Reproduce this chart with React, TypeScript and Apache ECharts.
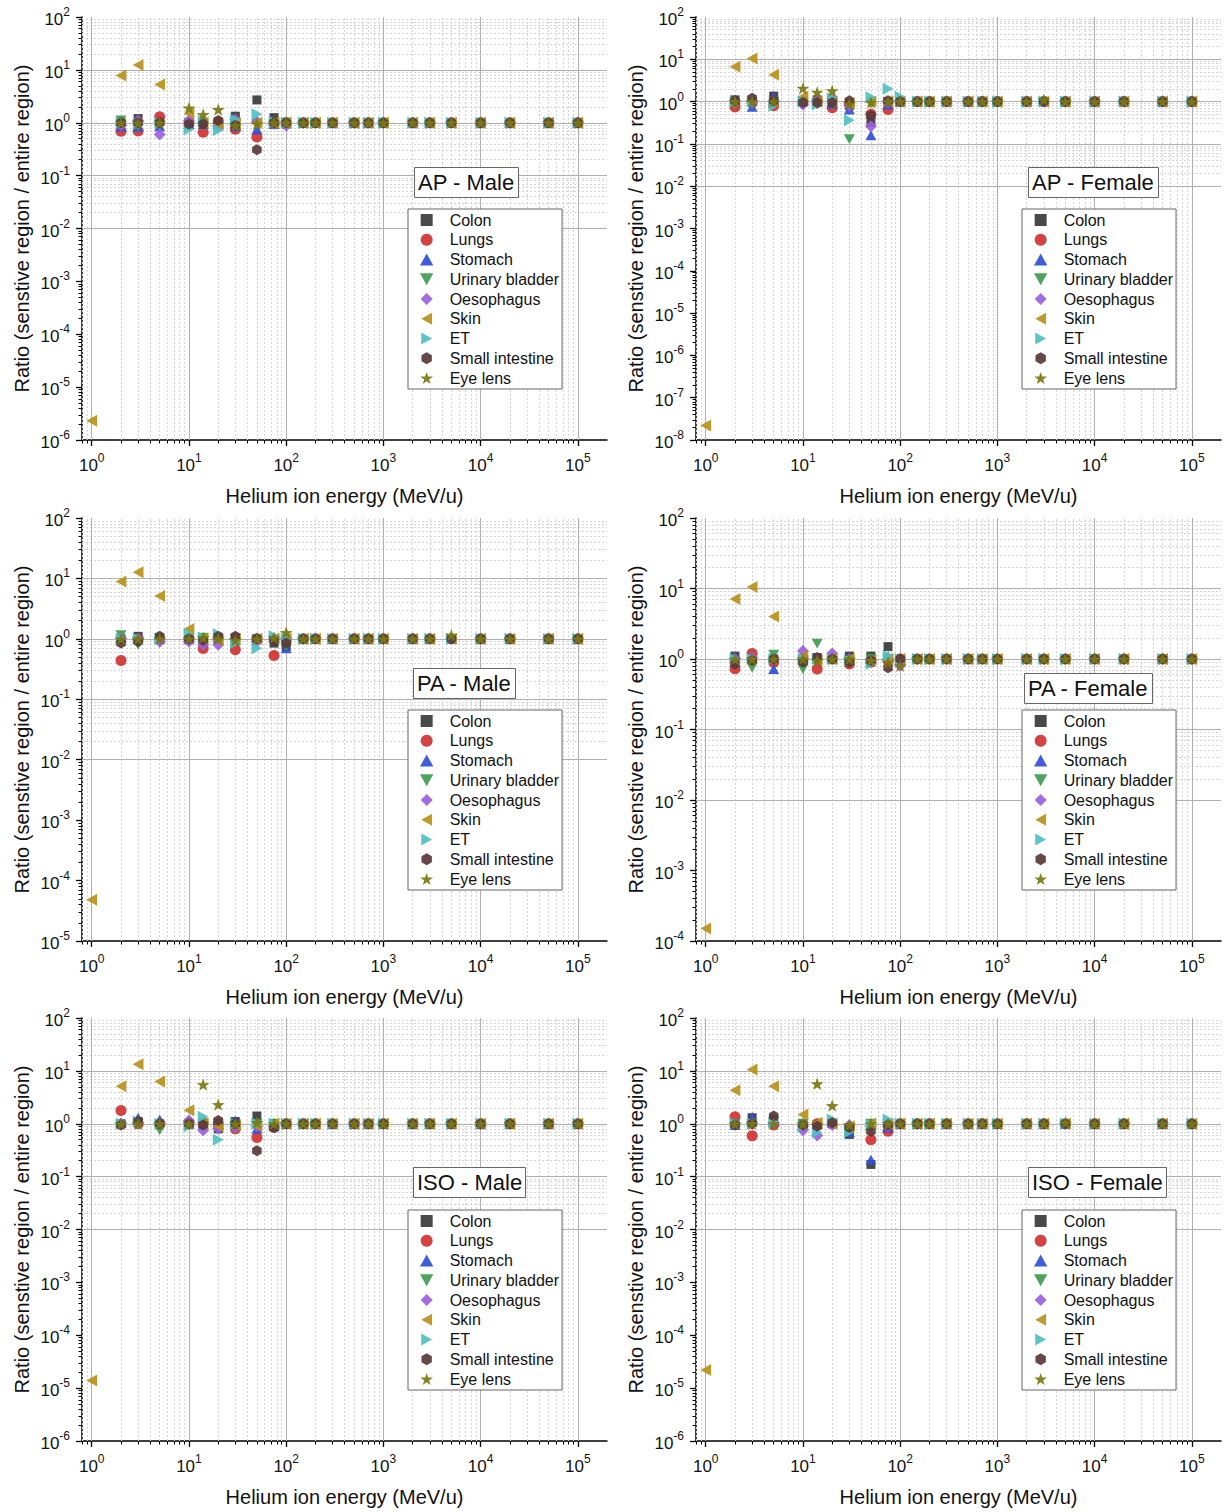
import React, { useEffect, useRef } from 'react';
import * as echarts from 'echarts';

// ---------------- DATA ----------------
const energies = [1, 2, 3, 5, 10, 14, 20, 30, 50, 75, 100, 150, 200, 300, 500, 700, 1000, 2000, 3000, 5000, 10000, 20000, 50000, 100000];
const organs = ['Colon', 'Lungs', 'Stomach', 'Urinary bladder', 'Oesophagus', 'Skin', 'ET', 'Small intestine', 'Eye lens'];
const panelTitles = ['AP - Male', 'AP - Female', 'PA - Male', 'PA - Female', 'ISO - Male', 'ISO - Female'];
const yMinExps = [-6, -8, -5, -4, -6, -6];
const xMajorTicks = [1, 10, 100, 1000, 10000, 100000];

// AP - Male
const apMaleColon = [null, 1.0, 1.2, 1.05, 1.0, 1.0, 1.0, 1.33, 2.7, 1.25, 1.02, 1.0, 1.0, 1.0, 1.0, 1.0, 1.0, 1.0, 1.0, 1.0, 1.0, 1.0, 1.0, 1.0];
const apMaleLungs = [null, 0.69, 0.7, 1.3, 1.0, 0.66, 1.02, 0.75, 0.54, 1.0, 1.0, 1.0, 1.0, 1.0, 1.0, 1.0, 1.0, 1.0, 1.0, 1.0, 1.0, 1.0, 1.0, 1.0];
const apMaleStomach = [null, 0.85, 0.84, 0.86, 0.95, 0.95, 0.92, 0.85, 0.75, 0.95, 0.98, 1.0, 1.0, 1.0, 1.0, 1.0, 1.0, 1.0, 1.0, 1.0, 1.0, 1.0, 1.0, 1.0];
const apMaleBladder = [null, 1.1, 0.85, 0.9, 1.0, 0.85, 0.9, 0.9, 0.95, 1.0, 1.0, 1.0, 1.0, 1.0, 1.0, 1.0, 1.0, 1.0, 1.0, 1.0, 1.0, 1.0, 1.0, 1.0];
const apMaleOesophagus = [null, 0.9, 1.1, 0.6, 1.1, 1.0, 0.85, 1.15, 1.05, 0.95, 0.88, 1.0, 1.0, 1.0, 1.0, 1.0, 1.0, 1.0, 1.0, 1.0, 1.0, 1.0, 1.0, 1.0];
const apMaleSkin = [2.3e-6, 7.8, 12.3, 5.3, 1.5, 1.0, 0.95, 1.0, 1.0, 1.0, 1.0, 1.0, 1.0, 1.0, 1.0, 1.0, 1.0, 1.0, 1.0, 1.0, 1.0, 1.0, 1.0, 1.0];
const apMaleET = [null, 1.0, 0.95, 1.0, 0.75, 1.1, 0.72, 1.15, 1.45, 1.05, 1.0, 1.0, 1.0, 1.0, 1.0, 1.0, 1.0, 1.0, 1.0, 1.0, 1.0, 1.0, 1.0, 1.0];
const apMaleSmallInt = [null, 1.0, 1.0, 1.0, 0.95, 0.95, 1.1, 0.9, 0.31, 1.0, 1.0, 1.0, 1.0, 1.0, 1.0, 1.0, 1.0, 1.0, 1.0, 1.0, 1.0, 1.0, 1.0, 1.0];
const apMaleEye = [null, 1.0, 1.0, 1.0, 1.9, 1.43, 1.78, 0.88, 0.95, 1.0, 1.0, 1.0, 1.0, 1.0, 1.0, 1.0, 1.0, 1.0, 1.0, 1.0, 1.0, 1.0, 1.0, 1.0];

// AP - Female
const apFemaleColon = [null, 1.1, 1.0, 1.35, 1.0, 1.1, 0.9, 0.8, 0.32, 1.0, 1.0, 1.0, 1.0, 1.0, 1.0, 1.0, 1.0, 1.0, 1.0, 1.0, 1.0, 1.0, 1.0, 1.0];
const apFemaleLungs = [null, 0.75, 0.95, 0.8, 1.0, 0.95, 0.72, 0.9, 0.5, 0.65, 1.0, 1.0, 1.0, 1.0, 1.0, 1.0, 1.0, 1.0, 1.0, 1.0, 1.0, 1.0, 1.0, 1.0];
const apFemaleStomach = [null, 1.1, 0.75, 1.3, 1.0, 1.0, 0.9, 0.65, 0.16, 0.85, 1.0, 1.0, 1.0, 1.0, 1.0, 1.0, 1.0, 1.0, 1.0, 1.0, 1.0, 1.0, 1.0, 1.0];
const apFemaleBladder = [null, 0.85, 0.85, 1.0, 0.95, 0.85, 0.85, 0.13, 0.9, 1.0, 1.0, 1.0, 1.0, 1.0, 1.0, 1.0, 1.0, 1.0, 1.0, 1.0, 1.0, 1.0, 1.0, 1.0];
const apFemaleOesophagus = [null, 1.0, 1.0, 1.0, 0.85, 1.15, 1.2, 0.8, 0.26, 0.95, 1.0, 1.0, 1.0, 1.0, 1.0, 1.0, 1.0, 1.0, 1.0, 1.0, 1.0, 1.0, 1.0, 1.0];
const apFemaleSkin = [2.2e-8, 6.7, 10.5, 4.3, 1.3, 1.0, 1.0, 0.9, 1.0, 1.0, 1.0, 1.0, 1.0, 1.0, 1.0, 1.0, 1.0, 1.0, 1.0, 1.0, 1.0, 1.0, 1.0, 1.0];
const apFemaleET = [null, 1.0, 1.0, 0.8, 1.0, 0.85, 1.2, 0.36, 1.27, 2.0, 1.3, 1.0, 1.0, 1.0, 1.0, 1.0, 1.0, 1.0, 1.0, 1.0, 1.0, 1.0, 1.0, 1.0];
const apFemaleSmallInt = [null, 1.05, 1.2, 1.05, 0.95, 0.95, 0.95, 1.05, 0.47, 1.05, 1.0, 1.0, 1.0, 1.0, 1.0, 1.0, 1.0, 1.0, 1.0, 1.0, 1.0, 1.0, 1.0, 1.0];
const apFemaleEye = [null, 1.0, 1.0, 1.0, 2.07, 1.66, 1.8, 0.88, 0.96, 1.0, 1.0, 1.0, 1.0, 1.0, 1.0, 1.0, 1.0, 1.0, 1.1, 1.0, 1.0, 1.0, 1.0, 1.0];

// PA - Male
const paMaleColon = [null, 1.0, 1.1, 1.0, 1.0, 1.0, 1.05, 1.0, 1.0, 0.85, 0.75, 1.0, 1.0, 1.0, 1.0, 1.0, 1.0, 1.0, 1.0, 1.0, 1.0, 1.0, 1.0, 1.0];
const paMaleLungs = [null, 0.44, 1.0, 1.0, 1.0, 0.69, 1.0, 0.66, 1.0, 0.53, 1.0, 1.0, 1.0, 1.0, 1.0, 1.0, 1.0, 1.0, 1.0, 1.0, 1.0, 1.0, 1.0, 1.0];
const paMaleStomach = [null, 1.05, 1.05, 1.0, 1.0, 1.05, 1.0, 0.95, 1.05, 1.05, 0.7, 1.0, 1.0, 1.0, 1.0, 1.0, 1.0, 1.0, 1.0, 1.0, 1.0, 1.0, 1.0, 1.0];
const paMaleBladder = [null, 1.15, 0.8, 0.85, 0.9, 1.05, 0.95, 1.0, 1.0, 1.0, 0.75, 1.0, 1.0, 1.0, 1.0, 1.0, 1.0, 1.0, 1.0, 1.0, 1.0, 1.0, 1.0, 1.0];
const paMaleOesophagus = [null, 1.0, 1.0, 0.9, 0.9, 0.8, 0.8, 1.0, 0.9, 1.0, 1.0, 1.0, 1.0, 1.0, 1.0, 1.0, 1.0, 1.0, 1.0, 1.0, 1.0, 1.0, 1.0, 1.0];
const paMaleSkin = [4.8e-5, 8.9, 12.7, 5.1, 1.46, 1.0, 0.95, 1.0, 1.0, 1.0, 1.0, 1.0, 1.0, 1.0, 1.0, 1.0, 1.0, 1.0, 1.0, 1.0, 1.0, 1.0, 1.0, 1.0];
const paMaleET = [null, 1.0, 1.0, 1.0, 1.2, 1.05, 1.2, 0.85, 0.7, 1.1, 1.0, 1.0, 1.0, 1.0, 1.0, 1.0, 1.0, 1.0, 1.0, 1.0, 1.0, 1.0, 1.0, 1.0];
const paMaleSmallInt = [null, 0.85, 0.9, 1.1, 1.0, 0.95, 1.1, 1.1, 1.0, 0.95, 0.85, 1.0, 1.0, 1.0, 1.0, 1.0, 1.0, 1.0, 1.0, 1.0, 1.0, 1.0, 1.0, 1.0];
const paMaleEye = [null, 1.0, 1.0, 1.0, 1.0, 1.05, 1.0, 0.95, 1.0, 1.05, 1.27, 1.0, 1.0, 1.0, 1.0, 1.0, 1.0, 1.0, 1.0, 1.15, 1.0, 1.0, 1.0, 1.0];

// PA - Female
const paFemaleColon = [null, 1.1, 1.0, 1.0, 1.0, 1.05, 1.0, 1.1, 1.1, 1.5, 1.0, 1.0, 1.0, 1.0, 1.0, 1.0, 1.0, 1.0, 1.0, 1.0, 1.0, 1.0, 1.0, 1.0];
const paFemaleLungs = [null, 0.73, 1.2, 0.9, 1.0, 0.72, 1.0, 0.85, 0.9, 0.95, 1.0, 1.0, 1.0, 1.0, 1.0, 1.0, 1.0, 1.0, 1.0, 1.0, 1.0, 1.0, 1.0, 1.0];
const paFemaleStomach = [null, 1.1, 1.1, 0.72, 1.0, 1.0, 1.0, 1.05, 1.0, 1.1, 1.0, 1.0, 1.0, 1.0, 1.0, 1.0, 1.0, 1.0, 1.0, 1.0, 1.0, 1.0, 1.0, 1.0];
const paFemaleBladder = [null, 0.85, 0.75, 1.15, 0.72, 1.65, 1.0, 0.9, 1.0, 1.0, 0.8, 1.0, 1.0, 1.0, 1.0, 1.0, 1.0, 1.0, 1.0, 1.0, 1.0, 1.0, 1.0, 1.0];
const paFemaleOesophagus = [null, 1.0, 1.05, 1.0, 1.3, 1.0, 1.2, 1.0, 0.95, 1.0, 0.8, 1.0, 1.0, 1.0, 1.0, 1.0, 1.0, 1.0, 1.0, 1.0, 1.0, 1.0, 1.0, 1.0];
const paFemaleSkin = [1.5e-4, 7.1, 10.5, 4.0, 1.1, 0.95, 1.0, 1.0, 0.95, 1.0, 1.0, 1.0, 1.0, 1.0, 1.0, 1.0, 1.0, 1.0, 1.0, 1.0, 1.0, 1.0, 1.0, 1.0];
const paFemaleET = [null, 1.0, 1.0, 1.0, 1.0, 1.0, 1.0, 0.95, 0.85, 1.1, 1.0, 1.0, 1.0, 1.0, 1.0, 1.0, 1.0, 1.0, 1.0, 1.0, 1.0, 1.0, 1.0, 1.0];
const paFemaleSmallInt = [null, 0.85, 0.95, 1.0, 0.9, 1.05, 1.0, 0.9, 0.95, 0.75, 1.0, 1.0, 1.0, 1.0, 1.0, 1.0, 1.0, 1.0, 1.0, 1.0, 1.0, 1.0, 1.0, 1.0];
const paFemaleEye = [null, 1.0, 1.0, 1.0, 1.0, 0.95, 1.0, 1.0, 0.95, 0.9, 0.8, 1.0, 1.0, 1.0, 1.0, 1.0, 1.0, 1.0, 1.0, 1.0, 1.0, 1.0, 1.0, 1.0];

// ISO - Male
const isoMaleColon = [null, 1.0, 1.1, 1.0, 1.0, 1.0, 0.8, 1.1, 1.4, 0.95, 1.0, 1.0, 1.0, 1.0, 1.0, 1.0, 1.0, 1.0, 1.0, 1.0, 1.0, 1.0, 1.0, 1.0];
const isoMaleLungs = [null, 1.78, 1.0, 1.0, 1.05, 1.05, 1.0, 0.8, 0.55, 0.85, 1.0, 1.0, 1.0, 1.0, 1.0, 1.0, 1.0, 1.0, 1.0, 1.0, 1.0, 1.0, 1.0, 1.0];
const isoMaleStomach = [null, 1.05, 1.3, 1.2, 1.0, 1.0, 1.0, 1.15, 0.8, 0.9, 1.0, 1.0, 1.0, 1.0, 1.0, 1.0, 1.0, 1.0, 1.0, 1.0, 1.0, 1.0, 1.0, 1.0];
const isoMaleBladder = [null, 0.95, 1.0, 0.75, 0.95, 1.0, 1.0, 0.95, 1.0, 1.0, 1.0, 1.0, 1.0, 1.0, 1.0, 1.0, 1.0, 1.0, 1.0, 1.0, 1.0, 1.0, 1.0, 1.0];
const isoMaleOesophagus = [null, 1.0, 1.05, 1.0, 1.15, 0.75, 0.8, 0.85, 0.9, 0.9, 1.0, 1.0, 1.0, 1.0, 1.0, 1.0, 1.0, 1.0, 1.0, 1.0, 1.0, 1.0, 1.0, 1.0];
const isoMaleSkin = [1.4e-5, 5.1, 13.4, 6.3, 1.8, 1.0, 0.9, 0.95, 0.9, 1.0, 1.0, 1.0, 1.0, 1.0, 1.0, 1.0, 1.0, 1.0, 1.0, 1.0, 1.0, 1.0, 1.0, 1.0];
const isoMaleET = [null, 1.0, 1.1, 1.0, 0.9, 1.35, 0.5, 1.0, 1.0, 1.0, 1.0, 1.0, 1.0, 1.0, 1.0, 1.0, 1.0, 1.0, 1.0, 1.0, 1.0, 1.0, 1.0, 1.0];
const isoMaleSmallInt = [null, 0.95, 1.1, 1.0, 1.0, 0.95, 1.15, 1.0, 0.31, 0.85, 1.0, 1.0, 1.0, 1.0, 1.0, 1.0, 1.0, 1.0, 1.0, 1.0, 1.0, 1.0, 1.0, 1.0];
const isoMaleEye = [null, 1.0, 1.0, 1.0, 1.0, 5.5, 2.3, 1.0, 1.05, 1.0, 1.0, 1.0, 1.0, 1.0, 1.0, 1.0, 1.0, 1.0, 1.0, 1.0, 1.0, 1.0, 1.0, 1.0];

// ISO - Female
const isoFemaleColon = [null, 1.0, 1.3, 1.2, 1.0, 0.95, 1.0, 0.63, 0.17, 0.9, 1.0, 1.0, 1.0, 1.0, 1.0, 1.0, 1.0, 1.0, 1.0, 1.0, 1.0, 1.0, 1.0, 1.0];
const isoFemaleLungs = [null, 1.35, 0.59, 0.95, 0.95, 1.0, 1.0, 0.85, 0.5, 0.72, 1.0, 1.0, 1.0, 1.0, 1.0, 1.0, 1.0, 1.0, 1.0, 1.0, 1.0, 1.0, 1.0, 1.0];
const isoFemaleStomach = [null, 0.95, 1.35, 1.15, 1.0, 1.0, 1.05, 0.7, 0.21, 0.85, 1.0, 1.0, 1.0, 1.0, 1.0, 1.0, 1.0, 1.0, 1.0, 1.0, 1.0, 1.0, 1.0, 1.0];
const isoFemaleBladder = [null, 1.0, 1.0, 1.1, 1.0, 0.9, 1.0, 0.75, 1.0, 1.0, 1.0, 1.0, 1.0, 1.0, 1.0, 1.0, 1.0, 1.0, 1.0, 1.0, 1.0, 1.0, 1.0, 1.0];
const isoFemaleOesophagus = [null, 1.0, 1.0, 1.05, 0.75, 0.6, 0.95, 0.95, 0.9, 0.9, 1.0, 1.0, 1.0, 1.0, 1.0, 1.0, 1.0, 1.0, 1.0, 1.0, 1.0, 1.0, 1.0, 1.0];
const isoFemaleSkin = [2.2e-5, 4.3, 10.6, 5.1, 1.5, 1.05, 1.0, 0.9, 1.0, 1.0, 1.0, 1.0, 1.0, 1.0, 1.0, 1.0, 1.0, 1.0, 1.0, 1.0, 1.0, 1.0, 1.0, 1.0];
const isoFemaleET = [null, 1.0, 1.0, 1.05, 0.9, 0.68, 1.2, 0.7, 0.95, 1.2, 1.0, 1.0, 1.0, 1.0, 1.0, 1.0, 1.0, 1.0, 1.0, 1.0, 1.0, 1.0, 1.0, 1.0];
const isoFemaleSmallInt = [null, 0.95, 1.0, 1.4, 0.95, 0.9, 1.05, 0.85, 0.72, 0.95, 1.0, 1.0, 1.0, 1.0, 1.0, 1.0, 1.0, 1.0, 1.0, 1.0, 1.0, 1.0, 1.0, 1.0];
const isoFemaleEye = [null, 1.0, 1.0, 1.0, 1.0, 5.7, 2.2, 0.95, 1.0, 1.0, 1.0, 1.0, 1.0, 1.0, 1.0, 1.0, 1.0, 1.0, 1.0, 1.05, 1.0, 1.0, 1.0, 1.0];

const panelData = [
  [apMaleColon, apMaleLungs, apMaleStomach, apMaleBladder, apMaleOesophagus, apMaleSkin, apMaleET, apMaleSmallInt, apMaleEye],
  [apFemaleColon, apFemaleLungs, apFemaleStomach, apFemaleBladder, apFemaleOesophagus, apFemaleSkin, apFemaleET, apFemaleSmallInt, apFemaleEye],
  [paMaleColon, paMaleLungs, paMaleStomach, paMaleBladder, paMaleOesophagus, paMaleSkin, paMaleET, paMaleSmallInt, paMaleEye],
  [paFemaleColon, paFemaleLungs, paFemaleStomach, paFemaleBladder, paFemaleOesophagus, paFemaleSkin, paFemaleET, paFemaleSmallInt, paFemaleEye],
  [isoMaleColon, isoMaleLungs, isoMaleStomach, isoMaleBladder, isoMaleOesophagus, isoMaleSkin, isoMaleET, isoMaleSmallInt, isoMaleEye],
  [isoFemaleColon, isoFemaleLungs, isoFemaleStomach, isoFemaleBladder, isoFemaleOesophagus, isoFemaleSkin, isoFemaleET, isoFemaleSmallInt, isoFemaleEye],
];

// ---------------- STYLE ----------------
const FF = "'Liberation Sans', Arial, sans-serif";
const colors = ['#3a3a3a', '#d03232', '#3050d8', '#3f9c50', '#9a5fe0', '#b8901a', '#4fc0c0', '#5a3838', '#7a7a12'];
const STAR = 'path://M0,-1 L0.235,-0.324 L0.951,-0.309 L0.38,0.124 L0.588,0.809 L0,0.4 L-0.588,0.809 L-0.38,0.124 L-0.951,-0.309 L-0.235,-0.324 Z';
const HEX = 'path://M0,-1 L0.866,-0.5 L0.866,0.5 L0,1 L-0.866,0.5 L-0.866,-0.5 Z';
const SQUARE = 'path://M0,0 L2,0 L2,2 L0,2 Z';
const UP = 'path://M1,0 L2,1.8 L0,1.8 Z';
const DIAMOND = 'path://M1,0 L2,1 L1,2 L0,1 Z';
const symbols = [
  SQUARE, 'circle', UP, 'path://M0,0 L2,0 L1,1.8 Z', DIAMOND,
  'path://M0,1 L1.8,0 L1.8,2 Z', 'path://M0,0 L1.8,1 L0,2 Z', HEX, STAR,
];
const symbolSizes = [9, 11, 11, 11, 12, 12, 12, 11, 13];

const XMIN = 0.794;
const XMAX = 199500;
const gridLefts = [82, 696];
const gridTops = [17, 518, 1018];
const GRID_W = 525;
const GRID_H = 423;
const titleBoxes = [[414, 167], [1028, 167], [413, 668], [1024, 673], [413, 1167], [1028, 1167]];
const legendBoxes = [[408, 209], [1022, 209], [408, 710], [1022, 710], [408, 1210], [1022, 1210]];

const minorValues = (lo: number, hi: number, kFrom: number, kTo: number) => {
  const out: number[] = [];
  for (let k = kFrom; k <= kTo; k++) {
    for (let m = 2; m <= 9; m++) {
      const v = Number((m * Math.pow(10, k)).toPrecision(6));
      if (v >= lo && v <= hi) out.push(v);
    }
  }
  return out;
};

const rich = {
  b: { fontSize: 17, lineHeight: 22, verticalAlign: 'bottom', fontFamily: FF, color: '#111' },
  s: { fontSize: 12, lineHeight: 12, verticalAlign: 'top', fontFamily: FF, color: '#111' },
};
const powLabel = (v: number) => `{b|10}{s|${Math.round(Math.log10(v))}}`;

export default function App() {
  const ref = useRef<HTMLDivElement>(null);
  useEffect(() => {
    if (!ref.current) return;
    const chart = echarts.init(ref.current, undefined, { renderer: 'svg' });
    const xMinor = minorValues(XMIN, XMAX, -1, 5);
    const majorLine = { color: '#b0b0b0', width: 1, type: 'solid' };
    const minorLine = { color: '#d6d6d6', width: 1, type: [2, 2] };

    const grids: any[] = [];
    const xAxes: any[] = [];
    const yAxes: any[] = [];
    const xMinorAxes: any[] = [];
    const yMinorAxes: any[] = [];
    const series: any[] = [];
    const titles: any[] = [];
    const legends: any[] = [];

    panelTitles.forEach((pt, i) => {
      const col = i % 2;
      const row = Math.floor(i / 2);
      const yMin = Math.pow(10, yMinExps[i]);
      const yMajor: number[] = [];
      for (let k = yMinExps[i]; k <= 2; k++) yMajor.push(Number(Math.pow(10, k).toPrecision(3)));
      const yMinor = minorValues(yMin, 100, yMinExps[i], 1);

      grids.push({ left: gridLefts[col], top: gridTops[row], width: GRID_W, height: GRID_H, containLabel: false });

      xAxes.push({
        type: 'log', logBase: 10, gridIndex: i, min: XMIN, max: XMAX, position: 'bottom',
        axisLine: { show: true, onZero: false, lineStyle: { color: '#000', width: 1.5 } },
        axisTick: { show: true, customValues: xMajorTicks, length: 6, lineStyle: { color: '#000', width: 1.3 } },
        axisLabel: { show: true, customValues: xMajorTicks, formatter: powLabel, rich, margin: 12 },
        splitLine: { show: false }, minorTick: { show: false }, minorSplitLine: { show: false },
        name: 'Helium ion energy (MeV/u)', nameLocation: 'middle', nameGap: 46,
        nameTextStyle: { fontSize: 20, color: '#111', fontFamily: FF },
      });
      xMinorAxes.push({
        type: 'log', logBase: 10, gridIndex: i, min: XMIN, max: XMAX, position: 'bottom',
        axisLine: { show: false },
        axisTick: { show: true, customValues: xMinor, length: 3.5, lineStyle: { color: '#000', width: 1 } },
        axisLabel: { show: false }, splitLine: { show: false },
      });
      yAxes.push({
        type: 'log', logBase: 10, gridIndex: i, min: yMin, max: 100, position: 'left',
        axisLine: { show: true, onZero: false, lineStyle: { color: '#000', width: 1.5 } },
        axisTick: { show: true, customValues: yMajor, length: 6, lineStyle: { color: '#000', width: 1.3 } },
        axisLabel: { show: true, customValues: yMajor, formatter: powLabel, rich, margin: 12 },
        splitLine: { show: false }, minorTick: { show: false }, minorSplitLine: { show: false },
        name: 'Ratio (senstive region / entire region)', nameLocation: 'middle', nameGap: 50,
        nameTextStyle: { fontSize: 20, color: '#111', fontFamily: FF },
      });
      yMinorAxes.push({
        type: 'log', logBase: 10, gridIndex: i, min: yMin, max: 100, position: 'left',
        axisLine: { show: false },
        axisTick: { show: true, customValues: yMinor, length: 3.5, lineStyle: { color: '#000', width: 1 } },
        axisLabel: { show: false }, splitLine: { show: false },
      });

      // grid lines drawn through the axes' scales
      series.push({
        type: 'scatter', name: '__grid' + i, xAxisIndex: i, yAxisIndex: i, data: [], silent: true, z: 1,
        markLine: {
          silent: true, z: 1, symbol: ['none', 'none'], label: { show: false }, animation: false,
          emphasis: { disabled: true },
          data: [
            ...xMinor.map((v) => ({ xAxis: v, lineStyle: minorLine })),
            ...yMinor.map((v) => ({ yAxis: v, lineStyle: minorLine })),
            ...xMajorTicks.map((v) => ({ xAxis: v, lineStyle: majorLine })),
            ...yMajor.filter((v) => v > yMin && v < 100).map((v) => ({ yAxis: v, lineStyle: majorLine })),
          ],
        },
      });

      panelData[i].forEach((vals, s) => {
        series.push({
          type: 'scatter', name: organs[s], xAxisIndex: i, yAxisIndex: i, z: 3,
          symbol: symbols[s], symbolSize: symbolSizes[s], symbolKeepAspect: true,
          itemStyle: { color: colors[s], opacity: 0.92 },
          emphasis: { disabled: true },
          data: energies.map((e, k) => (vals[k] == null ? null : [e, vals[k]])).filter((d) => d !== null),
        });
      });

      titles.push({
        text: pt, left: titleBoxes[i][0], top: titleBoxes[i][1], padding: [3, 4, 3, 4],
        borderWidth: 1, borderColor: '#666', backgroundColor: '#fff',
        textStyle: { fontSize: 22, fontWeight: 'normal', color: '#111', fontFamily: FF, lineHeight: 25 },
      });
      legends.push({
        data: organs.map((name, s) => ({ name, icon: symbols[s] })),
        orient: 'vertical', left: legendBoxes[i][0], top: legendBoxes[i][1],
        selectedMode: false, itemWidth: 36, itemHeight: 12, itemGap: 3.75,
        padding: [3, 3, 3, 12], borderWidth: 1, borderColor: '#666', backgroundColor: '#fff',
        textStyle: { fontSize: 16, color: '#111', fontFamily: FF, lineHeight: 16 },
      });
    });

    chart.setOption({
      animation: false,
      backgroundColor: '#fff',
      textStyle: { fontFamily: FF },
      grid: grids,
      xAxis: [...xAxes, ...xMinorAxes],
      yAxis: [...yAxes, ...yMinorAxes],
      title: titles,
      legend: legends,
      series,
    });
    return () => chart.dispose();
  }, []);
  return <div ref={ref} style={{ position: 'fixed', left: 0, top: 0, width: 1226, height: 1512, background: '#fff' }} />;
}
